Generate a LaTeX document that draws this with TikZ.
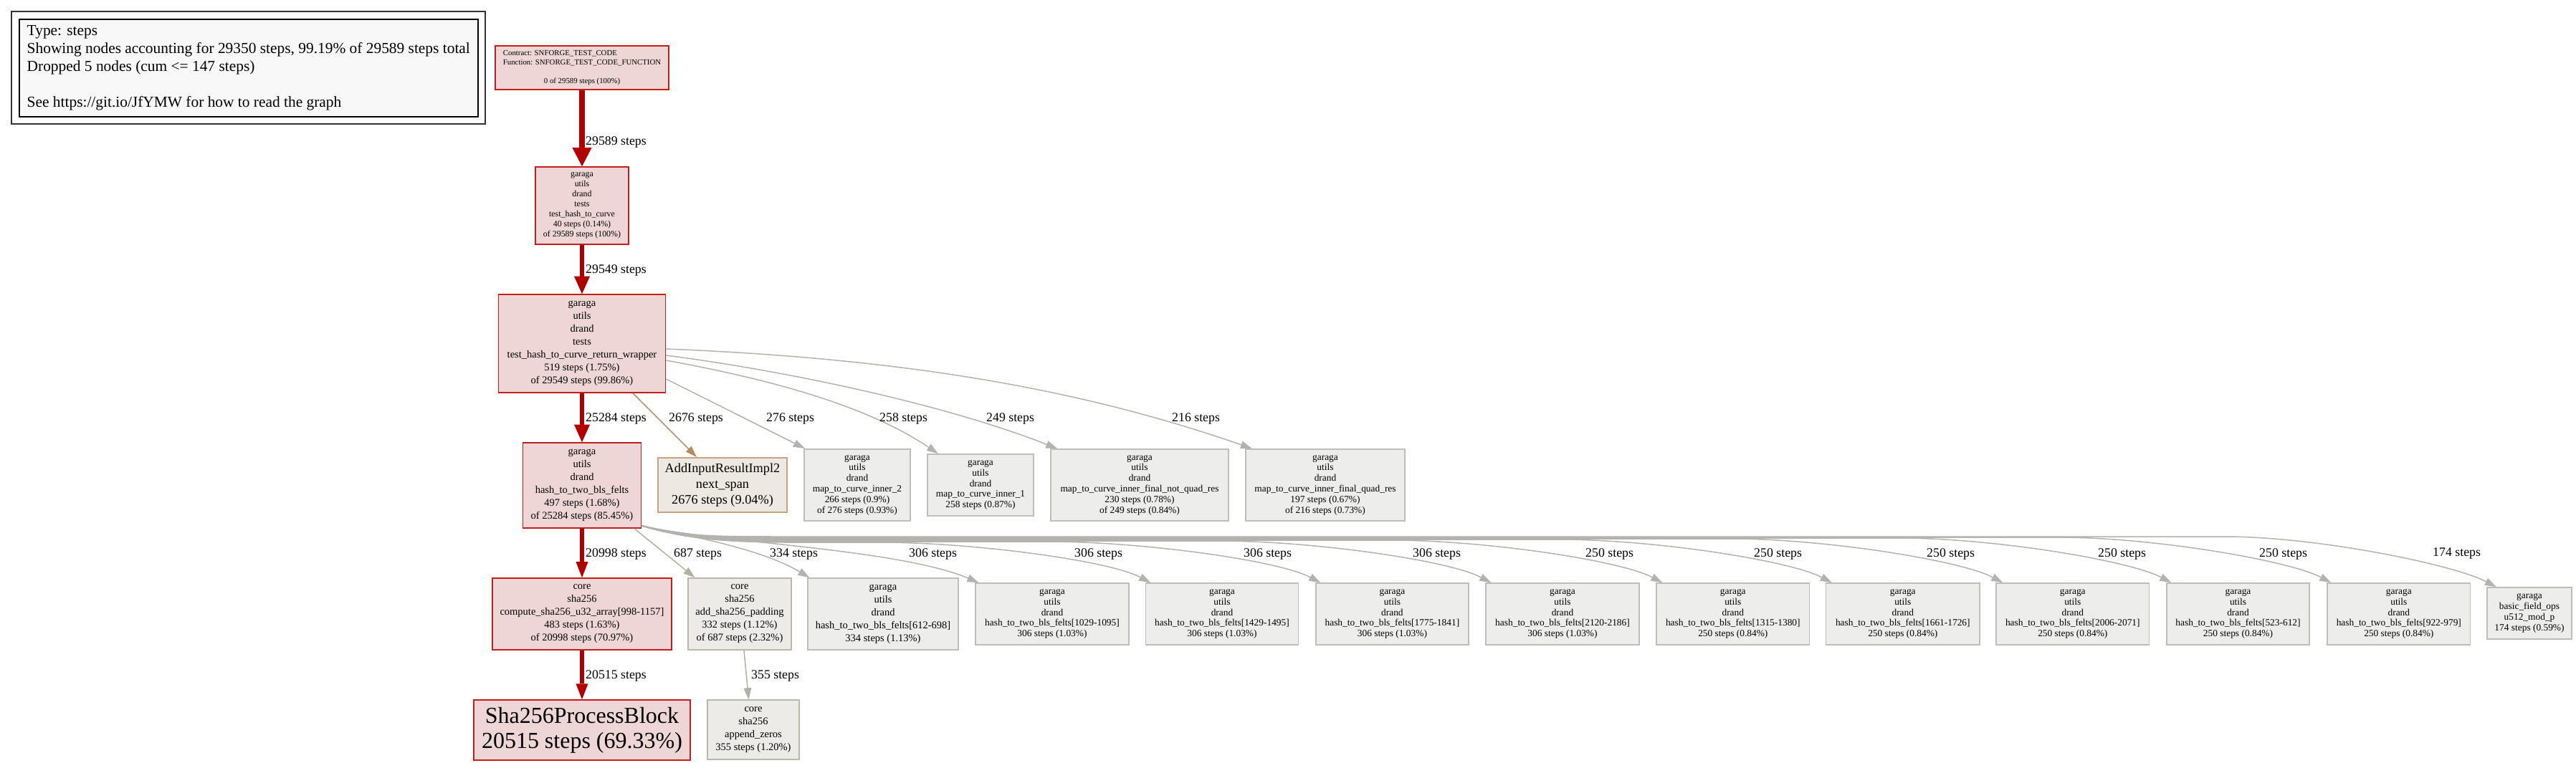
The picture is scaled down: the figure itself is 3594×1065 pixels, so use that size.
\documentclass[tikz,border=0pt]{standalone}
\usepackage{fontspec}
\setmainfont{Liberation Serif}
\usetikzlibrary{arrows.meta}
\definecolor{hotred}{HTML}{B20000}
\definecolor{hotfill}{HTML}{EDD6D5}
\definecolor{hotborder}{HTML}{C41E1A}
\definecolor{tanfill}{HTML}{EDE8E2}
\definecolor{tanborder}{HTML}{C8A47E}
\definecolor{tanedge}{HTML}{B58C62}
\definecolor{grayfill}{HTML}{EDEDEC}
\definecolor{grayborder}{HTML}{BDBDBA}
\definecolor{grayedge}{HTML}{B3B2AD}
\definecolor{warmfill}{HTML}{EDEBE8}
\definecolor{warmborder}{HTML}{BDB6AB}
\definecolor{warmedge}{HTML}{B4AEA3}
\definecolor{legfill}{HTML}{F8F8F8}
\newcommand\fntLeg{\fontsize{21.4}{25}\selectfont}
\newcommand\fntEdge{\fontsize{17.8}{21}\selectfont}
\newcommand\fntTop{\fontsize{10.8}{13}\selectfont}
\newcommand\fntOne{\fontsize{11.9}{14}\selectfont}
\newcommand\fntMid{\fontsize{14.5}{18}\selectfont}
\newcommand\fntSmall{\fontsize{13.4}{14.8}\selectfont}
\newcommand\fntAdd{\fontsize{18.3}{22}\selectfont}
\newcommand\fntBig{\fontsize{32}{35}\selectfont}
\begin{document}
\begin{tikzpicture}[x=1pt,y=-1pt,
  box/.style={inner sep=0pt, align=center, line width=1.6pt},
  hotnode/.style={box, draw=hotborder, fill=hotfill},
  graynode/.style={box, draw=grayborder, fill=grayfill},
  warmnode/.style={box, draw=warmborder, fill=warmfill},
  tannode/.style={box, draw=tanborder, fill=tanfill},
  rownode/.style={graynode, font=\fntSmall, minimum height=86pt},
  elab/.style={inner sep=0pt, anchor=west, font=\fntEdge},
  hotA/.style={draw=hotred, line width=7.5pt, -{Triangle[length=26pt,width=27pt,line width=0pt]}},
  hotB/.style={draw=hotred, line width=6.5pt, -{Triangle[length=24.5pt,width=22pt,line width=0pt]}},
  hotC/.style={draw=hotred, line width=5.5pt, -{Triangle[length=22pt,width=17pt,line width=0pt]}},
  thinedge/.style={line width=1.5pt, -{Triangle[length=16pt,width=11pt,line width=0pt]}},
  grayconn/.style={thinedge, draw=grayedge},
  warmconn/.style={thinedge, draw=warmedge},
  tanconn/.style={thinedge, draw=tanedge},
]
\useasboundingbox (0,0) rectangle (3594,1065);

% legend
\node[draw=black!80, line width=1.8pt, minimum width=661pt, minimum height=157pt, inner sep=0pt] (legendouter) at (346.5,94.5) {};
\node[draw=black, fill=legfill, line width=1.8pt, minimum width=640pt, minimum height=136pt, inner sep=0pt, font=\fntLeg] (legend) at (346.8,94.8)
 {\begin{tabular}{@{}l@{}}Type: steps\\Showing nodes accounting for 29350 steps, 99.19\% of 29589 steps total\\Dropped 5 nodes (cum <= 147 steps)\\ \\See https://git.io/JfYMW for how to read the graph\end{tabular}};

% main chain
\node[hotnode, minimum width=242pt, minimum height=61pt, font=\fntTop] (root) at (812,94.5)
 {\begin{tabular}{@{}l@{}}Contract: SNFORGE\_TEST\_CODE\\Function: SNFORGE\_TEST\_CODE\_FUNCTION\\ \\\multicolumn{1}{@{}c@{}}{0 of 29589 steps (100\%)}\end{tabular}};
\node[hotnode, minimum width=130pt, minimum height=108pt, font=\fntOne] (thc) at (812,287)
 {garaga\\utils\\drand\\tests\\test\_hash\_to\_curve\\40 steps (0.14\%)\\of 29589 steps (100\%)};
\node[hotnode, minimum width=233pt, minimum height=137pt, font=\fntMid] (wrap) at (812,479.5)
 {garaga\\utils\\drand\\tests\\test\_hash\_to\_curve\_return\_wrapper\\519 steps (1.75\%)\\of 29549 steps (99.86\%)};
\node[hotnode, minimum width=165pt, minimum height=119pt, font=\fntMid] (h2b) at (812,677.5)
 {garaga\\utils\\drand\\hash\_to\_two\_bls\_felts\\497 steps (1.68\%)\\of 25284 steps (85.45\%)};
\node[hotnode, minimum width=249.6pt, minimum height=100pt, font=\fntMid] (sha) at (812,857)
 {core\\sha256\\compute\_sha256\_u32\_array[998-1157]\\483 steps (1.63\%)\\of 20998 steps (70.97\%)};
\node[hotnode, minimum width=301.5pt, minimum height=83.7pt, font=\fntBig] (spb) at (812,1019)
 {Sha256ProcessBlock\\20515 steps (69.33\%)};

% children of wrapper
\node[tannode, minimum width=180.5pt, minimum height=76.5pt, font=\fntAdd] (addinput) at (1008,677)
 {AddInputResultImpl2\\next\_span\\2676 steps (9.04\%)};
\node[graynode, minimum width=148.5pt, minimum height=100.5pt, font=\fntSmall] (mtci2) at (1196,677)
 {garaga\\utils\\drand\\map\_to\_curve\_inner\_2\\266 steps (0.9\%)\\of 276 steps (0.93\%)};
\node[graynode, minimum width=148.5pt, minimum height=86pt, font=\fntSmall] (mtci1) at (1368,677)
 {garaga\\utils\\drand\\map\_to\_curve\_inner\_1\\258 steps (0.87\%)};
\node[graynode, minimum width=248pt, minimum height=100pt, font=\fntSmall] (mtcnq) at (1590,677)
 {garaga\\utils\\drand\\map\_to\_curve\_inner\_final\_not\_quad\_res\\230 steps (0.78\%)\\of 249 steps (0.84\%)};
\node[graynode, minimum width=222.5pt, minimum height=100pt, font=\fntSmall] (mtcq) at (1849,677)
 {garaga\\utils\\drand\\map\_to\_curve\_inner\_final\_quad\_res\\197 steps (0.67\%)\\of 216 steps (0.73\%)};

% children of hash_to_two_bls_felts
\node[warmnode, minimum width=143.6pt, minimum height=100pt, font=\fntMid] (pad) at (1032,857)
 {core\\sha256\\add\_sha256\_padding\\332 steps (1.12\%)\\of 687 steps (2.32\%)};
\node[warmnode, minimum width=128pt, minimum height=83pt, font=\fntMid] (zeros) at (1051,1018.5)
 {core\\sha256\\append\_zeros\\355 steps (1.20\%)};
\node[graynode, minimum width=209.6pt, minimum height=100pt, font=\fntMid] (h612) at (1232,857)
 {garaga\\utils\\drand\\hash\_to\_two\_bls\_felts[612-698]\\334 steps (1.13\%)};
\node[rownode, minimum width=213.5pt] (h1029) at (1468,857)
 {garaga\\utils\\drand\\hash\_to\_two\_bls\_felts[1029-1095]\\306 steps (1.03\%)};
\node[rownode, minimum width=213pt] (h1429) at (1705,857)
 {garaga\\utils\\drand\\hash\_to\_two\_bls\_felts[1429-1495]\\306 steps (1.03\%)};
\node[rownode, minimum width=213.3pt] (h1775) at (1942.4,857)
 {garaga\\utils\\drand\\hash\_to\_two\_bls\_felts[1775-1841]\\306 steps (1.03\%)};
\node[rownode, minimum width=214pt] (h2120) at (2180,857)
 {garaga\\utils\\drand\\hash\_to\_two\_bls\_felts[2120-2186]\\306 steps (1.03\%)};
\node[rownode, minimum width=213.5pt] (h1315) at (2417.8,857)
 {garaga\\utils\\drand\\hash\_to\_two\_bls\_felts[1315-1380]\\250 steps (0.84\%)};
\node[rownode, minimum width=214.5pt] (h1661) at (2654.8,857)
 {garaga\\utils\\drand\\hash\_to\_two\_bls\_felts[1661-1726]\\250 steps (0.84\%)};
\node[rownode, minimum width=213.5pt] (h2006) at (2891.8,857)
 {garaga\\utils\\drand\\hash\_to\_two\_bls\_felts[2006-2071]\\250 steps (0.84\%)};
\node[rownode, minimum width=199pt] (h523) at (3122.5,857)
 {garaga\\utils\\drand\\hash\_to\_two\_bls\_felts[523-612]\\250 steps (0.84\%)};
\node[rownode, minimum width=199.6pt] (h922) at (3346.8,857)
 {garaga\\utils\\drand\\hash\_to\_two\_bls\_felts[922-979]\\250 steps (0.84\%)};
\node[graynode, minimum width=118pt, minimum height=72pt, font=\fntSmall] (u512) at (3529,856)
 {garaga\\basic\_field\_ops\\u512\_mod\_p\\174 steps (0.59\%)};

% hot edges
\draw[hotA] (root.south) -- (thc.north);
\draw[hotB] (thc.south) -- (wrap.north);
\draw[hotB] (wrap.south) -- (h2b.north);
\draw[hotC] (h2b.south) -- (sha.north);
\draw[hotC] (sha.south) -- (spb.north);

% edges from wrapper
\draw[tanconn] ([xshift=71pt]wrap.south) -- ([xshift=-36pt]addinput.north);
\draw[grayconn] ([yshift=-49.5pt]wrap.east) -- ([xshift=2pt]mtci2.north west);
\draw[grayconn] ([yshift=-23.5pt]wrap.east) .. controls (1050,525) and (1200,560) .. ([xshift=16pt]mtci1.north west);
\draw[grayconn] ([yshift=-16.5pt]wrap.east) .. controls (1100,518) and (1320,565) .. ([xshift=10pt]mtcnq.north west);
\draw[grayconn] ([yshift=-7.5pt]wrap.east) .. controls (1250,500) and (1500,540) .. ([xshift=10pt]mtcq.north west);

% edges from hash_to_two_bls_felts
\draw[warmconn] ([xshift=73pt]h2b.south) -- ([xshift=10pt]pad.north west);
\draw[warmconn] ([xshift=6pt]pad.south) -- ([xshift=-6.5pt]zeros.north);
\draw[grayconn] ([yshift=4pt]h2b.south east) .. controls (960,748) and (1060,765) .. ([xshift=3pt]h612.north west);
\draw[grayconn] ([yshift=4pt]h2b.south east) .. controls (1000,758) and (1250,765) .. ([xshift=5pt]h1029.north west);
\draw[grayconn] ([yshift=4pt]h2b.south east) .. controls (950,750) and (1000,757) .. (1100,757) -- (1226,757) .. controls (1356,757) and (1546,782) .. ([xshift=7.5pt]h1429.north west);
\draw[grayconn] ([yshift=4pt]h2b.south east) .. controls (950,750) and (1000,756) .. (1100,756) -- (1463,756) .. controls (1593,756) and (1783,782) .. ([xshift=7.3pt]h1775.north west);
\draw[grayconn] ([yshift=4pt]h2b.south east) .. controls (950,750) and (1000,755) .. (1100,755) -- (1701,755) .. controls (1831,755) and (2021,782) .. ([xshift=8pt]h2120.north west);
\draw[grayconn] ([yshift=4pt]h2b.south east) .. controls (950,750) and (1000,754) .. (1100,754) -- (1940,754) .. controls (2070,754) and (2260,782) .. ([xshift=9pt]h1315.north west);
\draw[grayconn] ([yshift=4pt]h2b.south east) .. controls (950,750) and (1000,753) .. (1100,753) -- (2176,753) .. controls (2306,753) and (2496,782) .. ([xshift=9pt]h1661.north west);
\draw[grayconn] ([yshift=4pt]h2b.south east) .. controls (950,750) and (1000,752) .. (1100,752) -- (2415,752) .. controls (2545,752) and (2735,782) .. ([xshift=10pt]h2006.north west);
\draw[grayconn] ([yshift=4pt]h2b.south east) .. controls (950,750) and (1000,751) .. (1100,751) -- (2650,751) .. controls (2780,751) and (2970,782) .. ([xshift=7pt]h523.north west);
\draw[grayconn] ([yshift=4pt]h2b.south east) .. controls (950,750) and (1000,750) .. (1100,750) -- (2873,750) .. controls (3003,750) and (3193,782) .. ([xshift=6pt]h922.north west);
\draw[grayconn] ([yshift=4pt]h2b.south east) .. controls (950,749) and (1000,749) .. (1100,749) -- (3103,749) .. controls (3233,749) and (3423,788) .. ([xshift=13.5pt]u512.north west);

% edge labels
\node[elab] (l29589) at (817,198) {29589 steps};
\node[elab] (l29549) at (817,377) {29549 steps};
\node[elab] (l25284) at (817,584) {25284 steps};
\node[elab] (l2676) at (933,584) {2676 steps};
\node[elab] (l276) at (1069,584) {276 steps};
\node[elab] (l258) at (1227,584) {258 steps};
\node[elab] (l249) at (1376,584) {249 steps};
\node[elab] (l216) at (1635,584) {216 steps};
\node[elab] (l20998) at (817,773) {20998 steps};
\node[elab] (l687) at (940,773) {687 steps};
\node[elab] (l334) at (1074,773) {334 steps};
\node[elab] (l306a) at (1268,773) {306 steps};
\node[elab] (l306b) at (1499,773) {306 steps};
\node[elab] (l306c) at (1735,773) {306 steps};
\node[elab] (l306d) at (1971,773) {306 steps};
\node[elab] (l250a) at (2212,773) {250 steps};
\node[elab] (l250b) at (2447,773) {250 steps};
\node[elab] (l250c) at (2688,773) {250 steps};
\node[elab] (l250d) at (2927,773) {250 steps};
\node[elab] (l250e) at (3152,773) {250 steps};
\node[elab] (l174) at (3394,773) {174 steps};
\node[elab] (l20515) at (817,943) {20515 steps};
\node[elab] (l355) at (1048,943) {355 steps};
\end{tikzpicture}
\end{document}
